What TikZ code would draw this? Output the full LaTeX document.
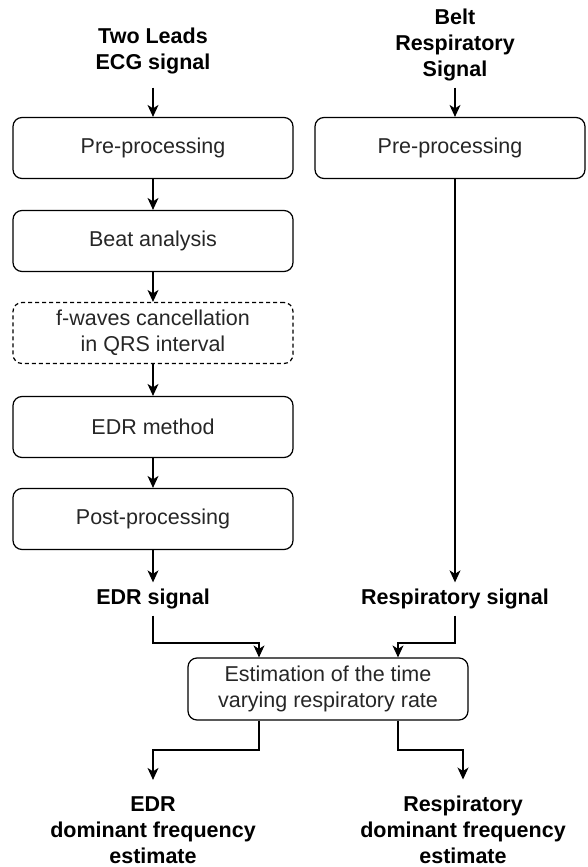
\documentclass[tikz,border=0pt]{standalone}
\usepackage{fontspec}
\setmainfont{Liberation Sans}
\usetikzlibrary{arrows.meta}
\newcommand{\diagfont}{\fontsize{21.5}{26}\selectfont}

\begin{document}
\begin{tikzpicture}[x=1pt,y=-1pt,->,>={Stealth[length=12pt,width=11pt,inset=3.5pt]},
  line width=1.2pt,
  box/.style={rectangle,draw,rounded corners=9pt,minimum width=280pt,
    minimum height=61pt,align=center,font=\diagfont,text=black!85},
  dashbox/.style={box,dash pattern=on 4pt off 3pt},
  lbl/.style={align=center,font=\diagfont\bfseries,inner sep=6pt}]
\useasboundingbox (0,0) rectangle (587,867);

% Inputs
\node [lbl] (ecg) at (153,51) {Two Leads\\ECG signal};
\node [lbl] (belt) at (455,45) {Belt\\Respiratory\\Signal};

% ECG branch
\node [box] (pre1) at (153,148) {Pre-processing};
\node [box] (beat) at (153,241) {Beat analysis};
\node [dashbox] (fwave) at (153,333) {f-waves cancellation\\in QRS interval};
\node [box] (edrm) at (153,427) {EDR method};
\node [box] (post) at (153,519) {Post-processing};
\node [lbl] (edrsig) at (153,599) {EDR signal};

% Belt branch
\node [box,minimum width=270pt] (pre2) at (450,148) {Pre-processing};
\node [lbl] (respsig) at (455,599) {Respiratory signal};

% Estimation and outputs
\node [box,minimum height=62pt] (est) at (328,689) {Estimation of the time\\varying respiratory rate};
\node [lbl] (edrout) at (153,830) {EDR\\dominant frequency\\estimate};
\node [lbl] (respout) at (463,830) {Respiratory\\dominant frequency\\estimate};

\coordinate (in1) at (259,643);
\coordinate (in2) at (398,643);
\coordinate (out1) at (259,750);
\coordinate (out2) at (398,750);

% Connectors
\draw[shorten <=7pt] (ecg) -- (pre1);
\draw (pre1) -- (beat);
\draw (beat) -- (fwave);
\draw (fwave) -- (edrm);
\draw (edrm) -- (post);
\draw (post) -- (edrsig);
\draw (belt) -- (belt |- pre2.north);
\draw (belt |- pre2.south) -- (respsig);
\draw (edrsig) |- (in1) -- (in1 |- est.north);
\draw (respsig) |- (in2) -- (in2 |- est.north);
\draw[shorten >=10pt] (out1 |- est.south) -- (out1) -| (edrout);
\draw[shorten >=10pt] (out2 |- est.south) -- (out2) -| (respout);
\end{tikzpicture}
\end{document}
